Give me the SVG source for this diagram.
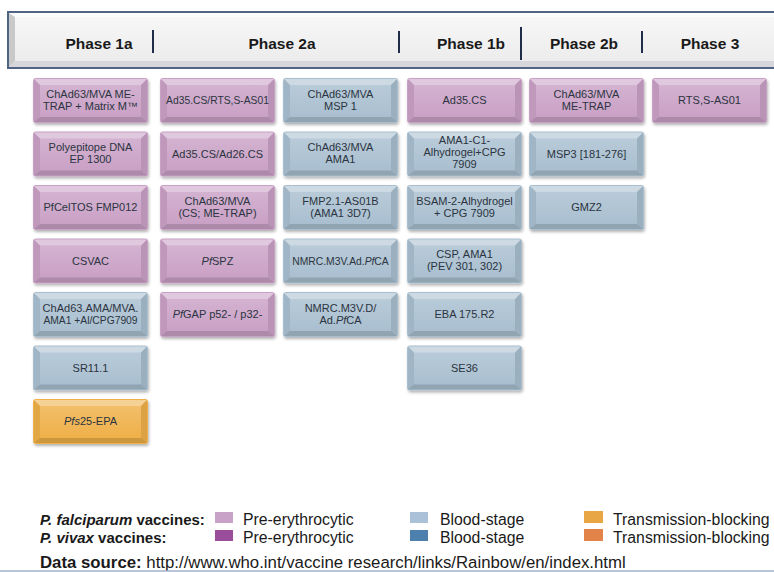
<svg xmlns="http://www.w3.org/2000/svg" xmlns:xlink="http://www.w3.org/1999/xlink" width="774" height="572" viewBox="0 0 774 572">
<style>
.t{font-family:"Liberation Sans",Arial,sans-serif;font-size:11px;fill:#2b3440;text-anchor:middle}
.t.s{font-size:10.3px}
.h{font-family:"Liberation Sans",Arial,sans-serif;font-size:15.5px;font-weight:bold;fill:#1a1a1a;text-anchor:middle}
.pink{color:#caa1c6}
.blue{color:#a9bfd0}
.orange{color:#efb04a}
.div{stroke:#1f2d4a;stroke-width:2}
.lg{font-family:"Liberation Sans",Arial,sans-serif;font-size:15.8px;fill:#1a1a1a}
.lg.src{font-size:16.8px}
.lb{font-family:"Liberation Sans",Arial,sans-serif;font-size:15px;font-weight:bold;fill:#1a1a1a}
.it{font-style:italic}
</style>
<defs>
<filter id="sh" x="-10%" y="-10%" width="125%" height="135%">
<feDropShadow dx="1" dy="2" stdDeviation="1.5" flood-color="#000" flood-opacity=".3"/>
</filter>
<linearGradient id="face" x1="0" y1="0" x2="0" y2="1">
<stop offset="0" stop-color="#fff" stop-opacity=".18"/>
<stop offset="1" stop-color="#fff" stop-opacity="0"/>
</linearGradient>
<linearGradient id="hdr" x1="0" y1="0" x2="0" y2="1">
<stop offset="0" stop-color="#f7f7f7"/>
<stop offset="1" stop-color="#ececec"/>
</linearGradient>
<g id="box">
<rect x="0" y="0" width="115" height="45" rx="3" fill="currentColor" filter="url(#sh)"/>
<rect x="7" y="7" width="101" height="32" fill="url(#face)"/>
<polygon points="1,1 114,1 108,7 7,7" fill="#fff" opacity=".42"/>
<polygon points="1,1 7,7 7,39 1,44" fill="#000" opacity=".05"/>
<polygon points="114,1 108,7 108,39 114,44" fill="#000" opacity=".08"/>
<polygon points="1,44 7,39 108,39 114,44" fill="#000" opacity=".14"/>
</g>
</defs>
<rect width="774" height="572" fill="#fff"/>

<g id="header">
<rect x="8" y="12" width="780" height="56" fill="#e2e2e2" stroke="#4f6385" stroke-width="2"/>
<rect x="15" y="17" width="770" height="44" fill="url(#hdr)"/>
<polygon points="9,13 15,17 15,61 9,67" fill="#c9c9c9"/>
<polygon points="9,67 15,61 785,61 785,67" fill="#d6d6dc"/>
<polygon points="9,13 785,13 785,17 15,17" fill="#fbfbfb"/>
<line class="div" x1="153" y1="30" x2="153" y2="53"/>
<line class="div" x1="399" y1="31" x2="399" y2="53"/>
<line class="div" x1="521" y1="27" x2="521" y2="60" stroke-width="3"/>
<line class="div" x1="642" y1="31" x2="642" y2="53"/>
<text class="h" x="99" y="49">Phase 1a</text>
<text class="h" x="282" y="49">Phase 2a</text>
<text class="h" x="471" y="49">Phase 1b</text>
<text class="h" x="584" y="49">Phase 2b</text>
<text class="h" x="710" y="49">Phase 3</text>
</g>

<g id="connectors"></g>

<!-- Column 1: Phase 1a -->
<g id="c1r1" class="pink" transform="translate(33,78)"><use href="#box"/><text class="t" x="57.5" y="19.5">ChAd63/MVA ME-</text><text class="t" x="57.5" y="31.5">TRAP + Matrix M™</text></g>
<g id="c1r2" class="pink" transform="translate(33,131.5)"><use href="#box"/><text class="t" x="57.5" y="19.5">Polyepitope DNA</text><text class="t" x="57.5" y="31.5">EP 1300</text></g>
<g id="c1r3" class="pink" transform="translate(33,185)"><use href="#box"/><text class="t" x="57.5" y="26">PfCelTOS FMP012</text></g>
<g id="c1r4" class="pink" transform="translate(33,238.5)"><use href="#box"/><text class="t" x="57.5" y="26">CSVAC</text></g>
<g id="c1r5" class="blue" transform="translate(33,292)"><use href="#box"/><text class="t" x="57.5" y="19.5">ChAd63.AMA/MVA.</text><text class="t s" x="57.5" y="31.5">AMA1 +Al/CPG7909</text></g>
<g id="c1r6" class="blue" transform="translate(33,345.5)"><use href="#box"/><text class="t" x="57.5" y="26">SR11.1</text></g>
<g id="c1r7" class="orange" transform="translate(33,399)"><use href="#box"/><text class="t" x="57.5" y="26"><tspan class="it">Pfs</tspan>25-EPA</text></g>

<!-- Column 2: Phase 2a (pre-erythrocytic) -->
<g id="c2r1" class="pink" transform="translate(160,78)"><use href="#box"/><text class="t s" x="57.5" y="26">Ad35.CS/RTS,S-AS01</text></g>
<g id="c2r2" class="pink" transform="translate(160,131.5)"><use href="#box"/><text class="t" x="57.5" y="26">Ad35.CS/Ad26.CS</text></g>
<g id="c2r3" class="pink" transform="translate(160,185)"><use href="#box"/><text class="t" x="57.5" y="19.5">ChAd63/MVA</text><text class="t" x="57.5" y="31.5">(CS; ME-TRAP)</text></g>
<g id="c2r4" class="pink" transform="translate(160,238.5)"><use href="#box"/><text class="t" x="57.5" y="26"><tspan class="it">Pf</tspan>SPZ</text></g>
<g id="c2r5" class="pink" transform="translate(160,292)"><use href="#box"/><text class="t" x="57.5" y="26"><tspan class="it">Pf</tspan>GAP p52- / p32-</text></g>

<!-- Column 3: Phase 2a (blood-stage) -->
<g id="c3r1" class="blue" transform="translate(283,78)"><use href="#box"/><text class="t" x="57.5" y="19.5">ChAd63/MVA</text><text class="t" x="57.5" y="31.5">MSP 1</text></g>
<g id="c3r2" class="blue" transform="translate(283,131.5)"><use href="#box"/><text class="t" x="57.5" y="19.5">ChAd63/MVA</text><text class="t" x="57.5" y="31.5">AMA1</text></g>
<g id="c3r3" class="blue" transform="translate(283,185)"><use href="#box"/><text class="t" x="57.5" y="19.5">FMP2.1-AS01B</text><text class="t" x="57.5" y="31.5">(AMA1 3D7)</text></g>
<g id="c3r4" class="blue" transform="translate(283,238.5)"><use href="#box"/><text class="t s" x="57.5" y="26">NMRC.M3V.Ad.<tspan class="it">Pf</tspan>CA</text></g>
<g id="c3r5" class="blue" transform="translate(283,292)"><use href="#box"/><text class="t" x="57.5" y="19.5">NMRC.M3V.D/</text><text class="t" x="57.5" y="31.5">Ad.<tspan class="it">Pf</tspan>CA</text></g>

<!-- Column 4: Phase 1b -->
<g id="c4r1" class="pink" transform="translate(407,78)"><use href="#box"/><text class="t" x="57.5" y="26">Ad35.CS</text></g>
<g id="c4r2" class="blue" transform="translate(407,131.5)"><use href="#box"/><text class="t" x="57.5" y="12.5">AMA1-C1-</text><text class="t" x="57.5" y="24.5">Alhydrogel+CPG</text><text class="t" x="57.5" y="36.5">7909</text></g>
<g id="c4r3" class="blue" transform="translate(407,185)"><use href="#box"/><text class="t" x="57.5" y="19.5">BSAM-2-Alhydrogel</text><text class="t" x="57.5" y="31.5">+ CPG 7909</text></g>
<g id="c4r4" class="blue" transform="translate(407,238.5)"><use href="#box"/><text class="t" x="57.5" y="19.5">CSP, AMA1</text><text class="t" x="57.5" y="31.5">(PEV 301, 302)</text></g>
<g id="c4r5" class="blue" transform="translate(407,292)"><use href="#box"/><text class="t" x="57.5" y="26">EBA 175.R2</text></g>
<g id="c4r6" class="blue" transform="translate(407,345.5)"><use href="#box"/><text class="t" x="57.5" y="26">SE36</text></g>

<!-- Column 5: Phase 2b -->
<g id="c5r1" class="pink" transform="translate(529,78)"><use href="#box"/><text class="t" x="57.5" y="19.5">ChAd63/MVA</text><text class="t" x="57.5" y="31.5">ME-TRAP</text></g>
<g id="c5r2" class="blue" transform="translate(529,131.5)"><use href="#box"/><text class="t" x="57.5" y="26">MSP3 [181-276]</text></g>
<g id="c5r3" class="blue" transform="translate(529,185)"><use href="#box"/><text class="t" x="57.5" y="26">GMZ2</text></g>

<!-- Column 6: Phase 3 -->
<g id="c6r1" class="pink" transform="translate(652,78)"><use href="#box"/><text class="t" x="57.5" y="26">RTS,S-AS01</text></g>

<g id="legend">
<text class="lb" x="40" y="525"><tspan class="it">P. falciparum</tspan> vaccines:</text>
<text class="lb" x="40" y="543"><tspan class="it">P. vivax</tspan> vaccines:</text>
<rect x="215" y="512" width="18" height="11" fill="#c9a3c7"/>
<rect x="215" y="530" width="18" height="11" fill="#9a4d9b"/>
<text class="lg" x="243" y="525">Pre-erythrocytic</text>
<text class="lg" x="243" y="543">Pre-erythrocytic</text>
<rect x="410" y="512" width="18" height="11" fill="#aac1d7"/>
<rect x="410" y="530" width="18" height="11" fill="#4d80ad"/>
<text class="lg" x="440" y="525">Blood-stage</text>
<text class="lg" x="440" y="543">Blood-stage</text>
<rect x="584" y="511" width="19" height="12" fill="#e8a645"/>
<rect x="584" y="529" width="19" height="12" fill="#e2844a"/>
<text class="lg" x="613" y="525">Transmission-blocking</text>
<text class="lg" x="613" y="543">Transmission-blocking</text>
<text class="lg src" x="40" y="568"><tspan font-weight="bold">Data source:</tspan> http://www.who.int/vaccine research/links/Rainbow/en/index.html</text>
<line x1="0" y1="571" x2="774" y2="571" stroke="#9fb3c8" stroke-width="1.5"/>
</g>
</svg>
